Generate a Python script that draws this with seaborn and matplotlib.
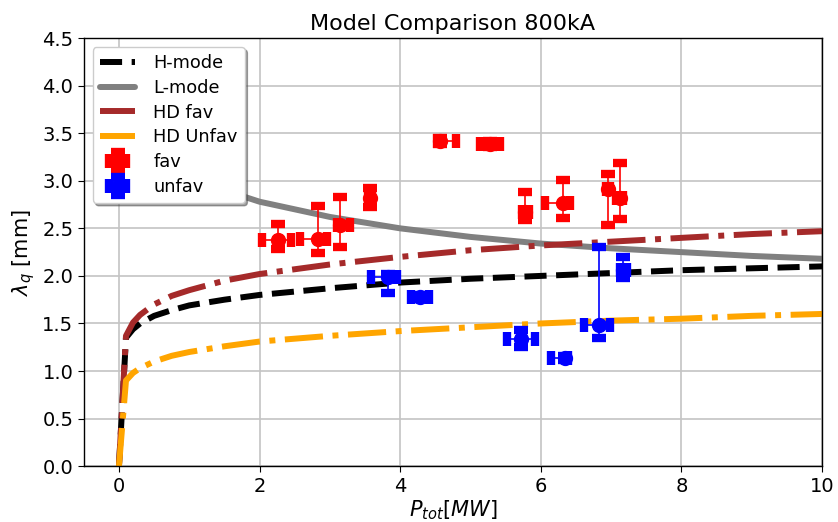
import matplotlib
matplotlib.use("Agg")
import matplotlib.pyplot as plt
import seaborn as sns

# model curves (P_tot in MW, lambda_q in mm)
p_model = [0, 0.1, 0.2, 0.3, 0.5, 0.75, 1, 1.5, 2, 3, 4, 5, 6, 7, 8, 9, 10]
h_mode = [0, 1.35, 1.44, 1.50, 1.58, 1.64, 1.69, 1.75, 1.80, 1.87, 1.93, 1.97, 2.00, 2.03, 2.06, 2.08, 2.10]
hd_fav = [0, 1.37, 1.51, 1.59, 1.70, 1.79, 1.85, 1.95, 2.02, 2.12, 2.20, 2.27, 2.32, 2.36, 2.40, 2.44, 2.47]
hd_unfav = [0, 0.90, 0.98, 1.03, 1.10, 1.16, 1.20, 1.26, 1.31, 1.37, 1.42, 1.46, 1.50, 1.53, 1.55, 1.58, 1.60]

p_lmode = [0.1, 0.2, 0.5, 1, 1.5, 2, 3, 4, 5, 6, 7, 8, 9, 10]
l_mode = [4.35, 3.94, 3.43, 3.08, 2.90, 2.78, 2.62, 2.50, 2.41, 2.34, 2.29, 2.25, 2.21, 2.18]

# measurements, favourable field direction
fav_p = [2.26, 2.83, 3.15, 3.57, 4.57, 5.27, 5.78, 6.32, 6.95, 7.12]
fav_lq = [2.38, 2.39, 2.53, 2.82, 3.42, 3.39, 2.67, 2.77, 2.91, 2.82]
fav_xlo = [0.22, 0.26, 0.05, 0.03, 0.04, 0.14, 0.05, 0.26, 0.03, 0.05]
fav_xhi = [0.19, 0.13, 0.14, 0.03, 0.23, 0.15, 0.05, 0.10, 0.03, 0.05]
fav_ylo = [0.10, 0.15, 0.23, 0.10, 0.03, 0.03, 0.08, 0.16, 0.37, 0.22]
fav_yhi = [0.17, 0.34, 0.30, 0.10, 0.03, 0.03, 0.21, 0.24, 0.16, 0.37]

# measurements, unfavourable field direction
unf_p = [3.83, 4.28, 5.72, 6.35, 6.83, 7.17]
unf_lq = [1.99, 1.78, 1.34, 1.14, 1.48, 2.06]
unf_xlo = [0.24, 0.13, 0.20, 0.20, 0.22, 0.05]
unf_xhi = [0.13, 0.13, 0.20, 0.04, 0.16, 0.05]
unf_ylo = [0.17, 0.02, 0.09, 0.02, 0.13, 0.08]
unf_yhi = [0.03, 0.02, 0.09, 0.02, 0.82, 0.14]

sns.set_style("whitegrid", {"axes.edgecolor": "black", "grid.color": "#c4c4c4",
                            "xtick.bottom": True, "ytick.left": True,
                            "text.color": "black", "axes.labelcolor": "black",
                            "xtick.color": "black", "ytick.color": "black"})

fig = plt.figure(figsize=(8.38, 5.22), dpi=100)
ax = fig.add_axes([0.100, 0.107, 0.881, 0.820])

sns.lineplot(x=p_model, y=h_mode, ax=ax, color="black", linestyle="--", lw=4.3, label="H-mode")
sns.lineplot(x=p_lmode, y=l_mode, ax=ax, color="grey", lw=4.3, label="L-mode")
sns.lineplot(x=p_model, y=hd_fav, ax=ax, color="brown", linestyle="-.", lw=4.3, label="HD fav")
sns.lineplot(x=p_model, y=hd_unfav, ax=ax, color="orange", linestyle="-.", lw=4.3, label="HD Unfav")

ax.errorbar(fav_p, fav_lq, xerr=[fav_xlo, fav_xhi], yerr=[fav_ylo, fav_yhi], fmt="o",
            color="red", ms=10, capsize=5, capthick=6, elinewidth=1.2, label="fav", zorder=4)
ax.errorbar(unf_p, unf_lq, xerr=[unf_xlo, unf_xhi], yerr=[unf_ylo, unf_yhi], fmt="o",
            color="blue", ms=10, capsize=5, capthick=6, elinewidth=1.2, label="unfav", zorder=4)

ax.set_xlim(-0.5, 10)
ax.set_ylim(0, 4.5)
ax.set_yticks([0, 0.5, 1, 1.5, 2, 2.5, 3, 3.5, 4, 4.5])
ax.grid(True, lw=1.2)
ax.tick_params(labelsize=14, length=4, color="black")
for s in ax.spines.values():
    s.set_linewidth(1)
ax.set_xlabel(r"$P_{tot}[MW]$", fontsize=15, labelpad=2)
ax.set_ylabel(r"$\lambda_q$ [mm]", fontsize=15)
ax.set_title("Model Comparison 800kA", fontsize=16)

ax.legend(loc="upper left", fontsize=12.8, shadow=True, framealpha=1, handlelength=2.0,
          handletextpad=1.0, labelspacing=0.38)

fig.savefig("out.png", dpi=100)
